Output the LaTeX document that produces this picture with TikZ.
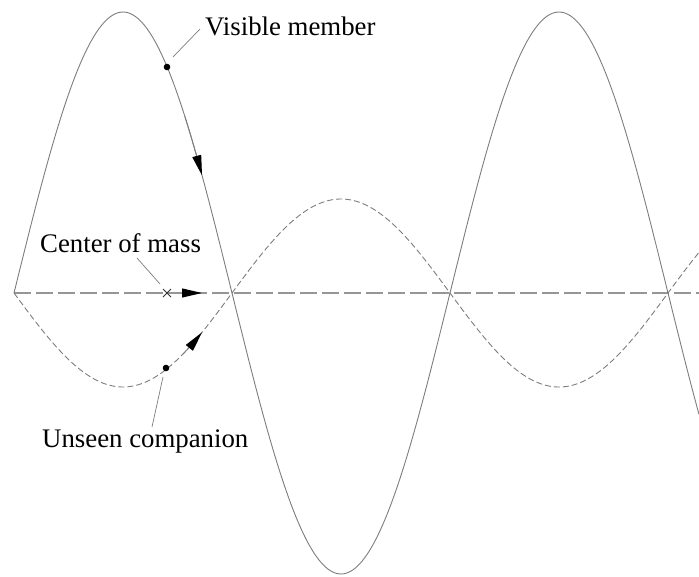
\documentclass[tikz,border=0pt]{standalone}
\usepackage{fontspec}
\setmainfont{Liberation Serif}
\usetikzlibrary{arrows.meta,calc}
\definecolor{curvegray}{RGB}{125,125,125}
\definecolor{axisgray}{RGB}{150,150,150}
\tikzset{
  visible/.style={curvegray, line width=0.9pt},
  companion/.style={curvegray, line width=0.9pt, dash pattern=on 6pt off 3pt},
  axisline/.style={axisgray, line width=1.1pt, dash pattern=on 17pt off 5pt},
  leader/.style={curvegray, line width=0.7pt},
  lbl/.style={anchor=base west, inner sep=0pt, font=\fontsize{26.8}{30}\selectfont},
  tip/.style={-{Triangle[length=20pt,width=9pt,color=black]}},
  dotmark/.style={fill=black}
}
\begin{document}
\begin{tikzpicture}[x=1pt,y=-1pt]
\useasboundingbox (0,0) rectangle (699,576);
% axis
\coordinate (axL) at (14,293);
\coordinate (axR) at (699,293);
\draw[axisline] (axL) -- (axR);
% curves
\draw[visible] plot[domain=14:699, samples=300, smooth] (\x, {293-281*sin((\x-14)/218*180)});
\draw[companion] plot[domain=14:699, samples=300, smooth] (\x, {293+94*sin((\x-14)/218*180)});
% arrowheads on curves
\draw[visible, tip] plot[domain=185:202, samples=8, smooth] (\x, {293-281*sin((\x-14)/218*180)});
\draw[curvegray, line width=0.9pt, tip] plot[domain=183:202, samples=8, smooth] (\x, {293+94*sin((\x-14)/218*180)});
% center of mass marker and arrow
\coordinate (cm) at (167,293);
\draw[black!80, line width=0.9pt] ($(cm)+(-4,-4)$) -- ($(cm)+(4,4)$) ($(cm)+(-4,4)$) -- ($(cm)+(4,-4)$);
\coordinate (cmA) at (180,293);
\coordinate (cmB) at (202,293);
\draw[axisgray, line width=1.1pt, tip] (cmA) -- (cmB);
% dots
\coordinate (vis) at (167,67);
\coordinate (comp) at (166,368);
\fill[dotmark] (vis) circle (3.3);
\fill[dotmark] (comp) circle (3.3);
% labels
\node[lbl] (lvis) at (205,35) {Visible member};
\node[lbl] (lcm) at (40,252) {Center of mass};
\node[lbl] (lcomp) at (42,447) {Unseen companion};
% leaders
\coordinate (lv1) at (200,29);
\coordinate (lv2) at (173,57);
\draw[leader] (lv1) -- (lv2);
\coordinate (lc1) at (137,258);
\coordinate (lc2) at (160,284);
\draw[leader] (lc1) -- (lc2);
\coordinate (lu1) at (163,377);
\coordinate (lu2) at (152,427);
\draw[leader] (lu1) -- (lu2);
\end{tikzpicture}
\end{document}
